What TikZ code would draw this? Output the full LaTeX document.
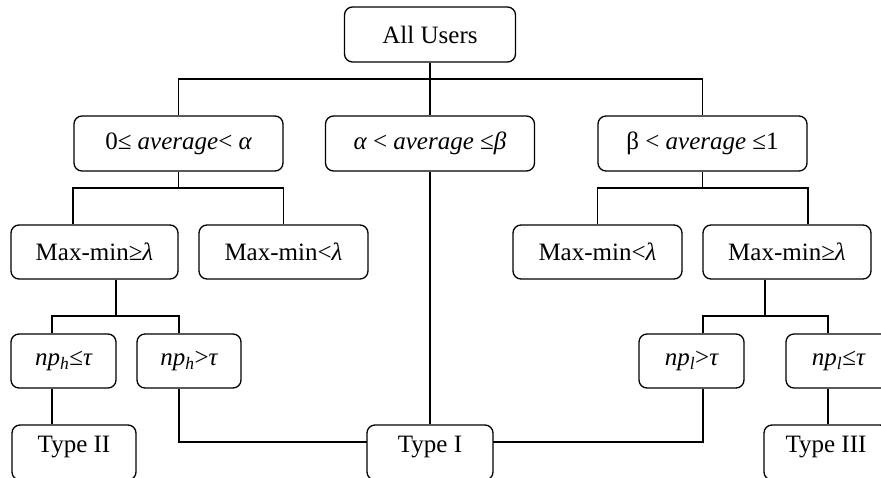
\documentclass[tikz,border=0pt]{standalone}
\usepackage{fontspec}
\setmainfont{Liberation Serif}
\begin{document}
\begin{tikzpicture}[x=1pt,y=-1pt,
  box/.style={draw,rounded corners=8pt,line width=1.3pt,inner sep=0pt,
    font=\fontsize{25}{30}\selectfont},
  wire/.style={line width=1.3pt}]
\useasboundingbox (0,0) rectangle (881,477);
\clip (0,0) rectangle (881,477);
% level 1
\node[box,minimum width=171,minimum height=55] (all) at (430,34.5) {All Users};
% level 2
\node[box,minimum width=209,minimum height=55] (la) at (178.5,143.5) {0≤ \textit{average}< {\itshape α}};
\node[box,minimum width=209,minimum height=55] (lb) at (430,143.5) {{\itshape α} < \textit{average} ≤{\itshape β}};
\node[box,minimum width=209,minimum height=55] (lc) at (702.5,143.5) {β < \textit{average} ≤1};
% level 3
\node[box,minimum width=167,minimum height=54] (ma) at (94.5,252) {Max-min≥{\itshape λ}};
\node[box,minimum width=169,minimum height=54] (mb) at (283.5,252) {Max-min<{\itshape λ}};
\node[box,minimum width=169,minimum height=54] (mc) at (597.5,252) {Max-min<{\itshape λ}};
\node[box,minimum width=168,minimum height=54] (md) at (787,252) {Max-min≥{\itshape λ}};
% level 4
\node[box,minimum width=105,minimum height=54] (na) at (63.5,361) {\textit{np\textsubscript{h}}≤{\itshape τ}};
\node[box,minimum width=104,minimum height=54] (nb) at (189,361) {\textit{np\textsubscript{h}}>{\itshape τ}};
\node[box,minimum width=105,minimum height=54] (nc) at (691.5,361) {\textit{np\textsubscript{l}}>{\itshape τ}};
\node[box,minimum width=105,minimum height=54] (nd) at (838.5,361) {\textit{np\textsubscript{l}}≤{\itshape τ}};
% level 5
\node[box,minimum width=124,minimum height=55,text depth=16pt] (t2) at (74,452.5) {Type II};
\node[box,minimum width=126,minimum height=55,text depth=16pt] (t1) at (430,452.5) {Type I};
\node[box,minimum width=124,minimum height=55,text depth=16pt] (t3) at (826,452.5) {Type III};
% coordinates
\coordinate (b1) at (430,79);
\coordinate (b2) at (178.5,188);
\coordinate (b3) at (702.5,188);
\coordinate (b4) at (116,316);
\coordinate (b5) at (765,316);
\coordinate (j1) at (367,442);
\coordinate (j2) at (493,442);
% connectors
\draw[wire] (all.south) -- (lb.north);
\draw[wire] (la.north) |- (b1) -| (lc.north);
\draw[wire] (la.south) -- (b2);
\draw[wire] ([xshift=-21.5pt]ma.north) |- (b2) -| (mb.north);
\draw[wire] (lc.south) -- (b3);
\draw[wire] (mc.north) |- (b3) -| ([xshift=21pt]md.north);
\draw[wire] ([xshift=21.5pt]ma.south) -- (b4);
\draw[wire] ([xshift=-11.5pt]na.north) |- (b4) -| ([xshift=-10pt]nb.north);
\draw[wire] ([xshift=-22pt]md.south) -- (b5);
\draw[wire] ([xshift=11.5pt]nc.north) |- (b5) -| ([xshift=-10.5pt]nd.north);
\draw[wire] ([xshift=-11.5pt]na.south) -- ([xshift=-22pt]t2.north);
\draw[wire] ([xshift=-10pt]nb.south) |- (j1);
\draw[wire] (lb.south) -- (t1.north);
\draw[wire] ([xshift=11.5pt]nc.south) |- (j2);
\draw[wire] ([xshift=-10.5pt]nd.south) -- ([xshift=2pt]t3.north);
\end{tikzpicture}
\end{document}
